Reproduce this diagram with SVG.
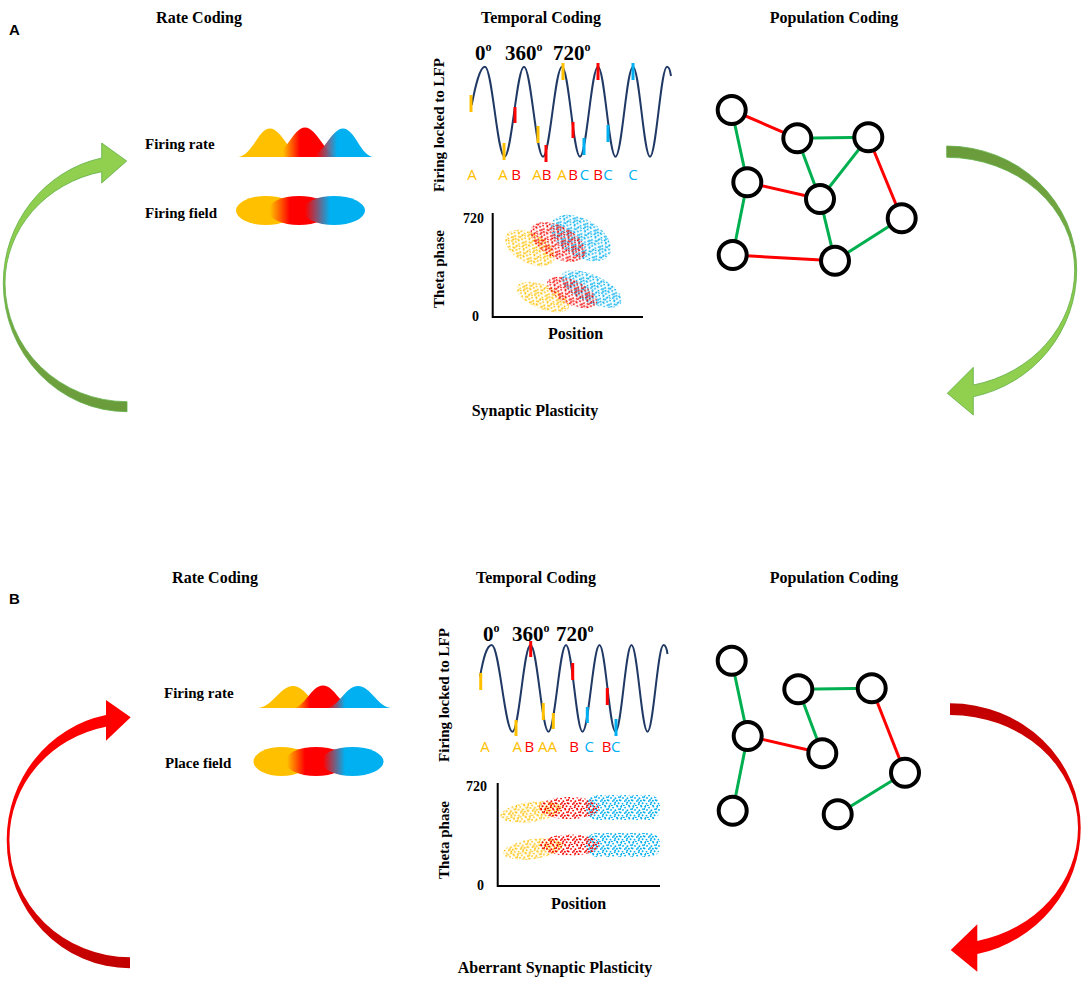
<svg xmlns="http://www.w3.org/2000/svg" xmlns:xlink="http://www.w3.org/1999/xlink" width="1084" height="981" viewBox="0 0 1084 981">
<style>
.t{font-family:"Liberation Serif","Times New Roman",serif;font-weight:bold;fill:#000}
.h{font-size:16px;text-anchor:middle}
.lab{font-size:15px}
.ax16{font-size:16px;text-anchor:middle}
.num{font-size:14px;text-anchor:end}
.deg{font-size:21px}
.pl{font-family:"Liberation Sans",Arial,sans-serif;font-weight:bold;font-size:15px;fill:#000}
.ltr{font-family:"Open Sans","Liberation Sans",sans-serif;font-size:15px;text-anchor:middle}
.fy{fill:#FFC000}.fr{fill:#FF0000}.fb{fill:#00B0F0}
.wave{fill:none;stroke:#1F3864;stroke-width:2}
.sp{stroke-width:3}
.sy{stroke:#FFC000}.sr{stroke:#FF0000}.sb{stroke:#00B0F0}
.node circle{fill:#fff;stroke:#000;stroke-width:4}
.eg{stroke:#00B050;stroke-width:3}
.er{stroke:#FF0000;stroke-width:3}
.axis{stroke:#000;stroke-width:2;fill:none}
</style>
<defs>
<g id="dots">
<circle cx="1.2" cy="0.8" r="0.95"/><circle cx="5.1" cy="1.6" r="0.95"/><circle cx="9.3" cy="0.5" r="0.95"/>
<circle cx="3.0" cy="3.9" r="0.95"/><circle cx="7.4" cy="4.2" r="0.95"/><circle cx="11.0" cy="3.3" r="0.95"/>
<circle cx="0.6" cy="6.5" r="0.95"/><circle cx="4.8" cy="7.1" r="0.95"/><circle cx="8.9" cy="6.8" r="0.95"/>
<circle cx="2.5" cy="9.6" r="0.95"/><circle cx="6.7" cy="10.3" r="0.95"/><circle cx="10.6" cy="9.2" r="0.95"/>
<circle cx="3.9" cy="11.6" r="0.95"/><circle cx="9.0" cy="11.7" r="0.95"/>
<circle cx="7.2" cy="8.5" r="0.95"/><circle cx="11.6" cy="6.1" r="0.95"/><circle cx="0.3" cy="2.9" r="0.95"/>
<circle cx="6.0" cy="5.9" r="0.95"/><circle cx="1.5" cy="11.9" r="0.95"/>
</g>
<pattern id="py" width="12" height="12" patternUnits="userSpaceOnUse"><use xlink:href="#dots" fill="#FFC000"/></pattern>
<pattern id="pr" width="12" height="12" patternUnits="userSpaceOnUse" patternTransform="translate(4,5)"><use xlink:href="#dots" fill="#F50000"/></pattern>
<pattern id="pb" width="12" height="12" patternUnits="userSpaceOnUse" patternTransform="translate(8,2)"><use xlink:href="#dots" fill="#00AEEF"/></pattern>

<linearGradient id="gRhA" gradientUnits="userSpaceOnUse" x1="283" y1="0" x2="300" y2="0"><stop offset="0" stop-color="#FFC000"/><stop offset="1" stop-color="#FF0000"/></linearGradient>
<linearGradient id="gBhA" gradientUnits="userSpaceOnUse" x1="316" y1="0" x2="337" y2="0"><stop offset="0" stop-color="#FF0000" stop-opacity="0.9"/><stop offset="1" stop-color="#00B0F0"/></linearGradient>
<linearGradient id="gReA" gradientUnits="userSpaceOnUse" x1="270" y1="0" x2="290" y2="0"><stop offset="0" stop-color="#FFC000"/><stop offset="1" stop-color="#FF0000"/></linearGradient>
<linearGradient id="gBeA" gradientUnits="userSpaceOnUse" x1="305" y1="0" x2="330" y2="0"><stop offset="0" stop-color="#FF0000"/><stop offset="1" stop-color="#00B0F0"/></linearGradient>
<linearGradient id="gRhB" gradientUnits="userSpaceOnUse" x1="294" y1="0" x2="310" y2="0"><stop offset="0" stop-color="#FFC000"/><stop offset="1" stop-color="#FF0000"/></linearGradient>
<linearGradient id="gBhB" gradientUnits="userSpaceOnUse" x1="327" y1="0" x2="345" y2="0"><stop offset="0" stop-color="#FF0000" stop-opacity="0.9"/><stop offset="1" stop-color="#00B0F0"/></linearGradient>
<linearGradient id="gReB" gradientUnits="userSpaceOnUse" x1="287" y1="0" x2="305" y2="0"><stop offset="0" stop-color="#FFC000"/><stop offset="1" stop-color="#FF0000"/></linearGradient>
<linearGradient id="gBeB" gradientUnits="userSpaceOnUse" x1="323" y1="0" x2="345" y2="0"><stop offset="0" stop-color="#FF0000"/><stop offset="1" stop-color="#00B0F0"/></linearGradient>

<linearGradient id="gGup" x1="0" y1="0" x2="0" y2="1"><stop offset="0" stop-color="#92D050"/><stop offset="0.45" stop-color="#8DCB4D"/><stop offset="0.65" stop-color="#76AA44"/><stop offset="1" stop-color="#6A9B3B"/></linearGradient>
<linearGradient id="gGdn" x1="0" y1="0" x2="0" y2="1"><stop offset="0" stop-color="#6A9B3B"/><stop offset="0.35" stop-color="#76AA44"/><stop offset="0.55" stop-color="#8DCB4D"/><stop offset="1" stop-color="#92D050"/></linearGradient>
<linearGradient id="gRup" x1="0" y1="0" x2="0" y2="1"><stop offset="0" stop-color="#FF0000"/><stop offset="0.5" stop-color="#F80000"/><stop offset="1" stop-color="#C00000"/></linearGradient>
<linearGradient id="gRdn" x1="0" y1="0" x2="0" y2="1"><stop offset="0" stop-color="#C00000"/><stop offset="0.5" stop-color="#F00000"/><stop offset="1" stop-color="#FF0000"/></linearGradient>
</defs>

<rect width="1084" height="981" fill="#fff"/>

<!-- ================= PANEL A ================= -->
<g id="panelA-labels">
<text class="pl" x="9" y="35">A</text>
<text class="t h" x="199" y="23">Rate Coding</text>
<text class="t h" x="541" y="23">Temporal Coding</text>
<text class="t h" x="834" y="23">Population Coding</text>
<text class="t h" x="535" y="416">Synaptic Plasticity</text>
</g>

<g id="rateA">
<text class="t lab" x="145" y="149">Firing rate</text>
<path d="M237,157 C252,157 258,128.5 270,128.5 C282,128.5 290,157 304,157 Z" fill="#FFC000"/>
<path d="M270,157 C285,157 293,127.5 305,127.5 C317,127.5 326,157 340,157 Z" fill="url(#gRhA)"/>
<path d="M308,157 C323,157 331,128.5 343,128.5 C355,128.5 361,157 374,157 Z" fill="url(#gBhA)"/>
<text class="t lab" x="145" y="218">Firing field</text>
<ellipse cx="266" cy="210.5" rx="30" ry="14.5" fill="#FFC000"/>
<ellipse cx="299" cy="210.5" rx="31" ry="14.5" fill="url(#gReA)"/>
<ellipse cx="334" cy="210.5" rx="31" ry="14.5" fill="url(#gBeA)"/>
</g>

<g id="temporalA">
<text class="t lab" transform="translate(444,125) rotate(-90)" text-anchor="middle">Firing locked to LFP</text>
<text class="t deg" x="475" y="60">0<tspan font-size="12" dy="-9">o</tspan></text>
<text class="t deg" x="505" y="60">360<tspan font-size="12" dy="-9">o</tspan></text>
<text class="t deg" x="553" y="60">720<tspan font-size="12" dy="-9">o</tspan></text>
<path class="wave" d="M471.7,105 C475,88 479.5,66.7 485,66.7 C492.1,66.7 497.4,156.7 504.5,156.7 C511.6,156.7 516.9,66.7 524,66.7 C530.9,66.7 536.1,156.7 543,156.7 C549.9,156.7 555.1,66.7 562,66.7 C568.6,66.7 573.4,156.7 580,156.7 C586.6,156.7 591.4,66.7 598,66.7 C604.4,66.7 609.1,156.7 615.5,156.7 C621.9,156.7 626.6,66.7 633,66.7 C639.2,66.7 643.8,156.7 650,156.7 C656.2,156.7 660.8,66.7 667,66.7 C669,66.7 670.3,71 671,76"/>
<g class="sp">
<line class="sy" x1="471" y1="95" x2="471" y2="112"/>
<line class="sy" x1="504" y1="143" x2="504" y2="160"/>
<line class="sr" x1="515" y1="107" x2="515" y2="123"/>
<line class="sy" x1="538" y1="126" x2="538" y2="143"/>
<line class="sr" x1="546" y1="145" x2="546" y2="162"/>
<line class="sy" x1="563" y1="63" x2="563" y2="80"/>
<line class="sr" x1="573" y1="122" x2="573" y2="138"/>
<line class="sb" x1="584" y1="138" x2="584" y2="155"/>
<line class="sr" x1="598" y1="63" x2="598" y2="80"/>
<line class="sb" x1="608" y1="125" x2="608" y2="142"/>
<line class="sb" x1="633" y1="63" x2="633" y2="80"/>
</g>
<text class="ltr fy" x="472" y="180">A</text>
<text class="ltr fy" x="503" y="180">A</text>
<text class="ltr fr" x="516" y="180">B</text>
<text class="ltr fy" x="537" y="180">A</text>
<text class="ltr fr" x="546.5" y="180">B</text>
<text class="ltr fy" x="562" y="180">A</text>
<text class="ltr fr" x="573" y="180">B</text>
<text class="ltr fb" x="584.5" y="180">C</text>
<text class="ltr fr" x="598" y="180">B</text>
<text class="ltr fb" x="608" y="180">C</text>
<text class="ltr fb" x="633" y="180">C</text>

<text class="t lab" font-size="16" transform="translate(444,269) rotate(-90)" text-anchor="middle">Theta phase</text>
<text class="t num" x="484" y="223">720</text>
<text class="t num" x="479" y="321">0</text>
<ellipse cx="530" cy="248" rx="27" ry="15" transform="rotate(28 530 248)" fill="url(#py)"/>
<ellipse cx="581" cy="238" rx="33" ry="19" transform="rotate(30 581 238)" fill="url(#pb)"/>
<ellipse cx="558" cy="242" rx="30" ry="16" transform="rotate(28 558 242)" fill="url(#pr)"/>
<ellipse cx="543" cy="297" rx="28" ry="12" transform="rotate(22 543 297)" fill="url(#py)"/>
<ellipse cx="591.5" cy="289" rx="33" ry="14" transform="rotate(25 591.5 289)" fill="url(#pb)"/>
<ellipse cx="572" cy="292.5" rx="27" ry="12" transform="rotate(25 572 292.5)" fill="url(#pr)"/>
<path class="axis" d="M492.7,213 V317 H643"/>
<text class="t ax16" x="575.5" y="339">Position</text>
</g>

<g id="connectorsA">
<line class="er" x1="731.7" y1="110" x2="797.3" y2="138.3"/>
<line class="eg" x1="797.3" y1="138.3" x2="868.3" y2="137.3"/>
<line class="eg" x1="731.7" y1="110" x2="747.3" y2="182.3"/>
<line class="eg" x1="797.3" y1="138.3" x2="820" y2="199"/>
<line class="eg" x1="868.3" y1="137.3" x2="820" y2="199"/>
<line class="er" x1="747.3" y1="182.3" x2="820" y2="199"/>
<line class="er" x1="868.3" y1="137.3" x2="901.7" y2="218.3"/>
<line class="eg" x1="747.3" y1="182.3" x2="732.7" y2="255"/>
<line class="eg" x1="820" y1="199" x2="835" y2="260.7"/>
<line class="eg" x1="901.7" y1="218.3" x2="835" y2="260.7"/>
<line class="er" x1="732.7" y1="255" x2="835" y2="260.7"/>
</g>
<g class="node" id="a-n1"><circle cx="731.7" cy="110" r="14"/></g>
<g class="node" id="a-n2"><circle cx="797.3" cy="138.3" r="14"/></g>
<g class="node" id="a-n3"><circle cx="868.3" cy="137.3" r="14"/></g>
<g class="node" id="a-n4"><circle cx="747.3" cy="182.3" r="14"/></g>
<g class="node" id="a-n5"><circle cx="820" cy="199" r="14"/></g>
<g class="node" id="a-n6"><circle cx="901.7" cy="218.3" r="14"/></g>
<g class="node" id="a-n7"><circle cx="732.7" cy="255" r="14"/></g>
<g class="node" id="a-n8"><circle cx="835" cy="260.7" r="14"/></g>

<g id="arrowsA">
<path d="M127,411.7 A123.7,128.7 0 0 1 3.3,283 A123.7,127.7 0 0 1 101.7,158 L101.7,143 L126.7,161 L101.7,183 L101.7,171.7 A122,114 0 0 0 5,283 A122,118.7 0 0 0 127,401.7 Z" fill="url(#gGup)" stroke="#5FAE45" stroke-width="0.8"/>
<path d="M946.7,146 A130,124 0 0 1 1076.7,270 A130,129.4 0 0 1 973.3,396.7 L973.3,415 L947.3,393.3 L973.3,367.3 L973.3,385 A128,117.6 0 0 0 1074.7,270 A128,112.7 0 0 0 946.7,157.3 Z" fill="url(#gGdn)" stroke="#5FAE45" stroke-width="0.8"/>
</g>

<!-- ================= PANEL B ================= -->
<g id="panelB-labels">
<text class="pl" x="9" y="604">B</text>
<text class="t h" x="215" y="583">Rate Coding</text>
<text class="t h" x="536" y="583">Temporal Coding</text>
<text class="t h" x="834" y="583">Population Coding</text>
<text class="t h" x="555" y="973">Aberrant Synaptic Plasticity</text>
</g>

<g id="rateB">
<text class="t lab" x="164" y="698">Firing rate</text>
<path d="M257,708 C272,708 280,686 293,686 C306,686 313,708 327,708 Z" fill="#FFC000"/>
<path d="M292,708 C305,708 311,685.5 323,685.5 C335,685.5 341,708 355,708 Z" fill="url(#gRhB)"/>
<path d="M325,708 C339,708 345,686 358,686 C371,686 378,708 392,708 Z" fill="url(#gBhB)"/>
<text class="t lab" x="165" y="768">Place field</text>
<ellipse cx="281.5" cy="761.5" rx="28" ry="14.5" fill="#FFC000"/>
<ellipse cx="316" cy="761.5" rx="31" ry="14.5" fill="url(#gReB)"/>
<ellipse cx="352.5" cy="761.5" rx="31" ry="14.5" fill="url(#gBeB)"/>
</g>

<g id="temporalB">
<text class="t lab" transform="translate(449,695) rotate(-90)" text-anchor="middle">Firing locked to LFP</text>
<text class="t deg" x="483" y="641">0<tspan font-size="12" dy="-9">o</tspan></text>
<text class="t deg" x="512" y="641">360<tspan font-size="12" dy="-9">o</tspan></text>
<text class="t deg" x="556" y="641">720<tspan font-size="12" dy="-9">o</tspan></text>
<path class="wave" d="M480,676.7 C483,660 486.5,645 491.7,645 C499.3,645 504.9,731.7 512.5,731.7 C519.1,731.7 523.9,645 530.5,645 C537.1,645 541.9,731.7 548.5,731.7 C554.9,731.7 559.6,645 566,645 C572,645 576.5,731.7 582.5,731.7 C588.7,731.7 593.3,645 599.5,645 C605.3,645 609.7,731.7 615.5,731.7 C621.3,731.7 625.7,645 631.5,645 C637.3,645 641.7,731.7 647.5,731.7 C653.3,731.7 657.7,645 663.5,645 C665.5,645 666.8,649 667.5,654"/>
<g class="sp">
<line class="sy" x1="480.7" y1="673" x2="480.7" y2="690"/>
<line class="sy" x1="516" y1="720" x2="516" y2="736"/>
<line class="sr" x1="530.7" y1="641" x2="530.7" y2="657"/>
<line class="sy" x1="543.3" y1="703" x2="543.3" y2="720"/>
<line class="sy" x1="553.3" y1="713" x2="553.3" y2="729"/>
<line class="sr" x1="572.7" y1="663" x2="572.7" y2="680"/>
<line class="sb" x1="587.3" y1="707" x2="587.3" y2="723"/>
<line class="sr" x1="607.3" y1="688" x2="607.3" y2="705"/>
<line class="sb" x1="616" y1="719" x2="616" y2="736"/>
</g>
<text class="ltr fy" x="485" y="752">A</text>
<text class="ltr fy" x="517.3" y="752">A</text>
<text class="ltr fr" x="529.3" y="752">B</text>
<text class="ltr fy" x="542.7" y="752">A</text>
<text class="ltr fy" x="552.3" y="752">A</text>
<text class="ltr fr" x="574" y="752">B</text>
<text class="ltr fb" x="589.3" y="752">C</text>
<text class="ltr fr" x="606.7" y="752">B</text>
<text class="ltr fb" x="615.7" y="752">C</text>

<text class="t lab" font-size="16" transform="translate(449,840) rotate(-90)" text-anchor="middle">Theta phase</text>
<text class="t num" x="487" y="791">720</text>
<text class="t num" x="484" y="890">0</text>
<ellipse cx="531" cy="812" rx="31" ry="10" transform="rotate(-8 531 812)" fill="url(#py)"/>
<rect x="586" y="795" width="74" height="25" rx="10" fill="url(#pb)"/>
<ellipse cx="569" cy="808" rx="30" ry="11" fill="url(#pr)"/>
<ellipse cx="533" cy="849" rx="30" ry="10" transform="rotate(-8 533 849)" fill="url(#py)"/>
<rect x="586" y="833" width="74" height="24" rx="10" fill="url(#pb)"/>
<ellipse cx="570" cy="845" rx="30" ry="10.5" fill="url(#pr)"/>
<path class="axis" d="M497.7,783 V886 H660"/>
<text class="t ax16" x="578.5" y="909">Position</text>
</g>

<g id="connectorsB">
<line class="eg" x1="731.7" y1="660.7" x2="747.7" y2="736"/>
<line class="eg" x1="798.3" y1="689.3" x2="871.7" y2="688.3"/>
<line class="eg" x1="798.3" y1="689.3" x2="822.3" y2="753.3"/>
<line class="er" x1="747.7" y1="736" x2="822.3" y2="753.3"/>
<line class="er" x1="871.7" y1="688.3" x2="905" y2="772.7"/>
<line class="eg" x1="747.7" y1="736" x2="732.7" y2="810.7"/>
<line class="eg" x1="905" y1="772.7" x2="837.7" y2="814.3"/>
</g>
<g class="node" id="b-n1"><circle cx="731.7" cy="660.7" r="14"/></g>
<g class="node" id="b-n2"><circle cx="798.3" cy="689.3" r="14"/></g>
<g class="node" id="b-n3"><circle cx="871.7" cy="688.3" r="14"/></g>
<g class="node" id="b-n4"><circle cx="747.7" cy="736" r="14"/></g>
<g class="node" id="b-n5"><circle cx="822.3" cy="753.3" r="14"/></g>
<g class="node" id="b-n6"><circle cx="905" cy="772.7" r="14"/></g>
<g class="node" id="b-n7"><circle cx="732.7" cy="810.7" r="14"/></g>
<g class="node" id="b-n8"><circle cx="837.7" cy="814.3" r="14"/></g>

<g id="arrowsB">
<path d="M130,968.3 A123.3,128.3 0 0 1 6.7,840 A123.3,127.4 0 0 1 106,715 L106,700 L130.7,717.3 L106,740.7 L106,726.7 A120.6,115.6 0 0 0 9.4,840 A120.6,117.3 0 0 0 130,957.3 Z" fill="url(#gRup)"/>
<path d="M950,703.3 A130.7,124.7 0 0 1 1080.7,828 A130.7,128.8 0 0 1 977.3,954 L977.3,971.7 L950.7,950 L977.3,924.3 L977.3,941 A128,115.7 0 0 0 1078,828 A128,113 0 0 0 950,715 Z" fill="url(#gRdn)"/>
</g>
</svg>
